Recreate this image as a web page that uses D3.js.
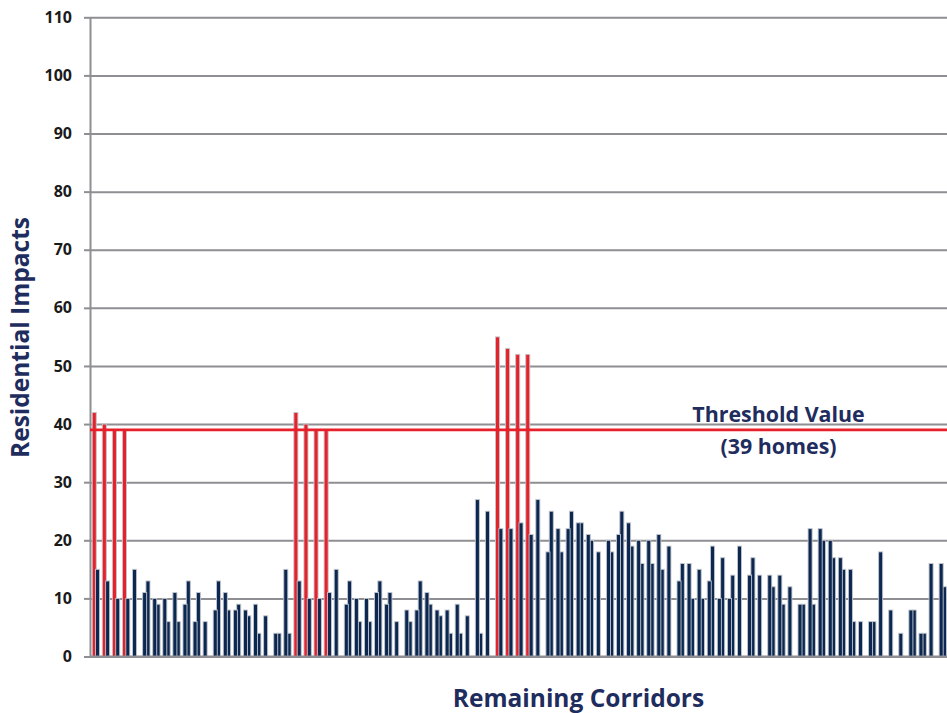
<!DOCTYPE html>
<html>
<head>
<meta charset="utf-8">
<script src="https://cdn.jsdelivr.net/npm/d3@7"></script>
<style>
  html, body { margin: 0; padding: 0; background: #ffffff; }
  svg { display: block; }
</style>
</head>
<body>
<svg id="chart" width="947" height="713"></svg>
<script>
// ---------------- DATA ----------------
const corridors = d3.range(1, 86).map(i => "Corridor " + i);

// First bar of each corridor pair
const seriesA = [
  42, 40, 39, 39, 15, 11, 10, 10, 11, 9,
  6, 6, 8, 11, 8, 8, 9, 7, 4, 15,
  42, 40, 39, 39, 15, 9, 10, 10, 11, 9,
  6, 8, 8, 11, 8, 8, 9, 7, 27, 25,
  55, 53, 52, 52, 27, 18, 22, 22, 23, 21,
  18, 20, 21, 23, 20, 20, 21, 19, 13, 16,
  15, 13, 10, 10, 19, 14, 14, 14, 14, 12,
  9, 22, 22, 20, 17, 15, 6, 6, 18, 8,
  4, 8, 4, 16, 16
];

// Second bar of each corridor pair (null where none is visible)
const seriesB = [
  15, 13, 10, 10, null, 13, 9, 6, 6, 13,
  11, null, 13, 8, 9, 7, 4, null, 4, 4,
  13, 10, 10, 11, null, 13, 6, 6, 13, 11,
  null, 6, 13, 9, 7, 4, 4, null, 4, null,
  22, 22, 23, 21, null, 25, 18, 25, 23, 20,
  null, 18, 25, 19, 16, 16, 15, null, 16, 10,
  10, 19, 17, 14, null, 17, null, 12, 9, null,
  9, 9, 20, 17, 15, 6, null, 6, null, null,
  null, 8, 4, null, 12
];

const yTicks = [0, 10, 20, 30, 40, 50, 60, 70, 80, 90, 100, 110];
const thresholdValue = 39;
const thresholdLabel = ["Threshold Value", "(39 homes)"];
const yTitle = "Residential Impacts";
const xTitle = "Remaining Corridors";

// ---------------- STYLE ----------------
const navy = "#0c2850";
const red = "#e8202a";
const barStroke = "#c2c6ce";
const gridColor = "#8e8e93";
const titleColor = "#1f2c5e";
const font = "'Open Sans', Lato, 'DejaVu Sans', sans-serif";

const svg = d3.select("#chart");
const plot = { left: 90, right: 947, top: 17.3, bottom: 656.5 };

const x = d3.scaleBand().domain(corridors).range([plot.left, plot.right]).padding(0);
const y = d3.scaleLinear().domain([0, 110]).range([plot.bottom, plot.top]);
const bw = x.bandwidth();

// gridlines
const grid = svg.append("g").attr("transform", `translate(${plot.left},0)`)
  .call(d3.axisLeft(y).tickValues(yTicks).tickSize(-(plot.right - plot.left)).tickFormat(""));
grid.select(".domain").remove();
grid.selectAll(".tick line").attr("stroke", gridColor).attr("stroke-width", 2);

// y axis with outward ticks + labels
const yAxis = svg.append("g").attr("transform", `translate(${plot.left},0)`)
  .call(d3.axisLeft(y).tickValues(yTicks).tickSizeInner(6).tickSizeOuter(0).tickPadding(12));
yAxis.select(".domain").attr("stroke", gridColor).attr("stroke-width", 2);
yAxis.selectAll(".tick line").attr("stroke", gridColor).attr("stroke-width", 2);
yAxis.selectAll(".tick text")
  .attr("font-family", font).attr("font-weight", "bold").attr("font-size", 16)
  .attr("fill", "#1a1a1a");

// bars
const rows = [];
corridors.forEach((c, i) => {
  if (seriesA[i] != null) rows.push({ c, s: "A", v: seriesA[i] });
  if (seriesB[i] != null) rows.push({ c, s: "B", v: seriesB[i] });
});
const layer = d => (d.v >= thresholdValue ? 0 : (d.s === "B" ? 1 : 2));
rows.sort((a, b) => layer(a) - layer(b));

const barW = bw * 0.4;
svg.append("g").selectAll("rect").data(rows).join("rect")
  .attr("x", d => x(d.c) + (d.s === "A" ? bw * 0.22 : bw * 0.55))
  .attr("width", barW)
  .attr("y", d => y(d.v))
  .attr("height", d => y(0) - y(d.v))
  .attr("fill", d => d.v >= thresholdValue ? red : navy)
  .attr("stroke", barStroke)
  .attr("stroke-width", 0.9);

// baseline
svg.append("line")
  .attr("x1", plot.left).attr("x2", plot.right)
  .attr("y1", y(0)).attr("y2", y(0))
  .attr("stroke", gridColor).attr("stroke-width", 2);

// threshold line
svg.append("line")
  .attr("x1", plot.left).attr("x2", plot.right)
  .attr("y1", y(thresholdValue)).attr("y2", y(thresholdValue))
  .attr("stroke", red).attr("stroke-width", 2.6);

// threshold label
svg.append("text")
  .attr("x", 778.5).attr("y", y(thresholdValue) - 8)
  .attr("text-anchor", "middle")
  .attr("font-family", font).attr("font-weight", "bold").attr("font-size", 21.4)
  .attr("fill", titleColor)
  .text(thresholdLabel[0]);
svg.append("text")
  .attr("x", 778.5).attr("y", y(thresholdValue) + 24.5)
  .attr("text-anchor", "middle")
  .attr("font-family", font).attr("font-weight", "bold").attr("font-size", 21.4)
  .attr("fill", titleColor)
  .text(thresholdLabel[1]);

// axis titles
svg.append("text")
  .attr("x", 578.5).attr("y", 707)
  .attr("text-anchor", "middle")
  .attr("font-family", font).attr("font-weight", "bold").attr("font-size", 24.5)
  .attr("fill", titleColor)
  .text(xTitle);

svg.append("text")
  .attr("transform", "translate(29,337.5) rotate(-90)")
  .attr("text-anchor", "middle")
  .attr("font-family", font).attr("font-weight", "bold").attr("font-size", 24.5)
  .attr("fill", titleColor)
  .text(yTitle);
</script>
</body>
</html>
